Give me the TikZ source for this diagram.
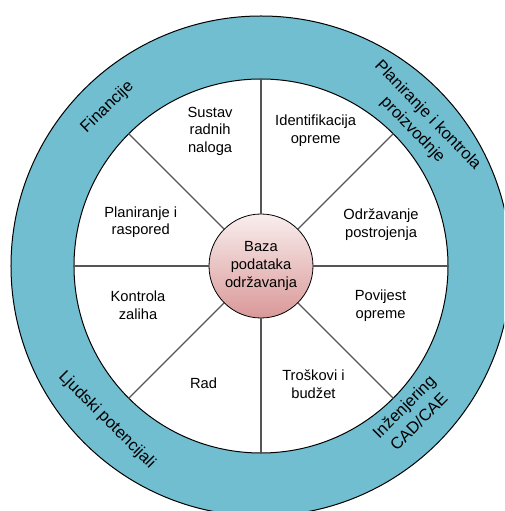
\documentclass[tikz,border=0pt]{standalone}
\usepackage{fontspec}
\setmainfont{Liberation Sans}
\definecolor{ringblue}{HTML}{70BED0}
\definecolor{hubtop}{HTML}{F9EEEE}
\definecolor{hubbottom}{HTML}{DA9898}
\definecolor{spokegray}{HTML}{555555}
\begin{document}
\begin{tikzpicture}[x=1pt,y=1pt]
  \tikzset{RING/.style={circle, draw=black, fill=ringblue, line width=1pt, minimum size=500pt, inner sep=0pt}}
  \tikzset{WHEEL/.style={circle, draw=black, fill=white, line width=1pt, minimum size=374pt, inner sep=0pt}}
  \tikzset{HUB/.style={circle, draw=black, line width=.8pt, top color=hubtop, bottom color=hubbottom, minimum size=104pt, inner sep=0pt, align=center, font=\fontsize{14.7}{17.8}\selectfont}}
  \tikzset{SL/.style={align=center, font=\fontsize{14.7}{17.8}\selectfont}}
  \tikzset{RL/.style={align=center, font=\fontsize{16.5}{21}\selectfont}}
  \tikzset{SP/.style={draw=spokegray, line width=1.1pt}}
  \useasboundingbox (-261,266) rectangle (243,-245);
  \clip (-261,266) rectangle (243,-245);
  \node [RING]  (ring)  at (0,0) {};
  \node [WHEEL] (wheel) at (0,0) {};
  \node [HUB]   (hub)   at (0,0) {Baza\\podataka\\održavanja};

  \foreach \a in {0,45,...,315}
    \draw[SP] (hub.\a) -- (wheel.\a);

  \node [SL] (s1) at (110.7:144) {Sustav\\radnih\\naloga};
  \node [SL] (s2) at (68:146)    {Identifikacija\\opreme};
  \node [SL] (s3) at (19:127)    {Održavanje\\postrojenja};
  \node [SL] (s4) at (-18.4:126) {Povijest\\opreme};
  \node [SL] (s5) at (-66:129)   {Troškovi i\\budžet};
  \node [SL] (s6) at (-116:131)  {Rad};
  \node [SL] (s7) at (197.6:129) {Kontrola\\zaliha};
  \node [SL] (s8) at (160:128)   {Planiranje i\\raspored};

  \node [RL, rotate=44]  (r1) at (134:221)   {Financije};
  \node [RL, rotate=-46] (r2) at (42:214)    {Planiranje i kontrola\\proizvodnje};
  \node [RL, rotate=-45] (r3) at (-135:218)  {Ljudski potencijali};
  \node [RL, rotate=45]  (r4) at (-44.6:211) {Inženjering\\CAD/CAE};
\end{tikzpicture}
\end{document}
